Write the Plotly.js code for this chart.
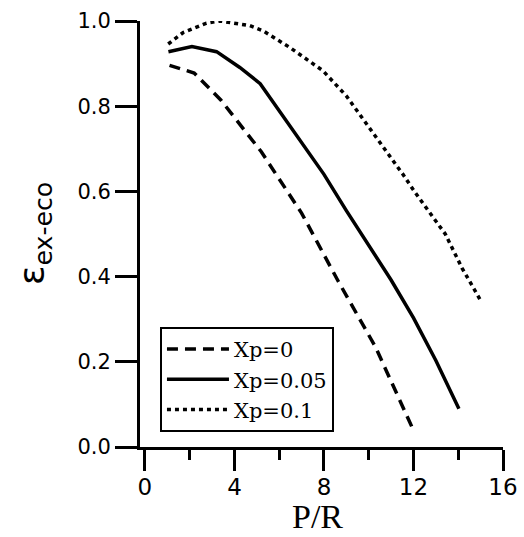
<!DOCTYPE html>
<html>
<head>
<meta charset="utf-8">
<script src="https://cdn.plot.ly/plotly-3.0.1.min.js"></script>
<style>html,body{margin:0;padding:0;background:#fff;}#chart{width:524px;height:537px;}</style>
</head>
<body>
<div id="chart"></div>
<script>
// Values
const xp0_x = [1.1, 2.2, 3.4, 5.2, 7, 8.65, 10.3, 12];
const xp0_y = [0.896, 0.878, 0.814, 0.693, 0.549, 0.388, 0.235, 0.039];

const xp005_x = [1.05, 2.1, 3.2, 4.24, 5.15, 6, 7, 8, 9, 10, 11, 12, 13, 14.03];
const xp005_y = [0.928, 0.94, 0.928, 0.891, 0.853, 0.79, 0.717, 0.64, 0.555, 0.472, 0.392, 0.303, 0.203, 0.09];

const xp01_x = [1.04, 1.71, 2.75, 3.35, 4.69, 5.28, 6.47, 7.96, 9.0, 10.19, 11.53, 12.08, 13.42, 14.17, 15.0];
const xp01_y = [0.946, 0.973, 0.995, 1.0, 0.989, 0.977, 0.938, 0.883, 0.824, 0.738, 0.64, 0.597, 0.50, 0.42, 0.344];

const seriesNames = ["Xp=0", "Xp=0.05", "Xp=0.1"];
const xTicks = [0, 4, 8, 12, 16];
const yTicks = [0, 0.2, 0.4, 0.6, 0.8, 1.0];
const yTickText = ["0.0", "0.2", "0.4", "0.6", "0.8", "1.0"];
const xTitle = 'P/R';
const yTitle = 'ε<sub>ex-eco</sub>';

const traces = [
  {x: xp0_x, y: xp0_y, name: seriesNames[0], mode: 'lines', line: {color: '#000', width: 3.5, dash: '11px,7px'}},
  {x: xp005_x, y: xp005_y, name: seriesNames[1], mode: 'lines', line: {color: '#000', width: 3.5}},
  {x: xp01_x, y: xp01_y, name: seriesNames[2], mode: 'lines', line: {color: '#000', width: 3.5, dash: '4px,4px'}}
];

const layout = {
  width: 524, height: 537,
  margin: {l: 140, r: 21, t: 21, b: 90},
  paper_bgcolor: '#fff', plot_bgcolor: '#fff',
  showlegend: true,
  legend: {x: 0.055, y: 0.282, xanchor: 'left', yanchor: 'top', bgcolor: '#fff', bordercolor: '#000', borderwidth: 2,
    font: {family: 'DejaVu Serif', size: 21, color: '#000'}, itemwidth: 62},
  xaxis: {range: [-0.22, 16], tickvals: xTicks, ticktext: xTicks.map(String), showgrid: false, zeroline: false,
    showline: true, linecolor: '#000', linewidth: 3, ticks: 'outside', ticklen: 21, tickwidth: 3, tickcolor: '#000',
    minor: {tickvals: [2, 6, 10, 14], ticks: 'outside', ticklen: 10, tickwidth: 3, tickcolor: '#000', showgrid: false},
    tickfont: {family: 'DejaVu Sans', size: 23, color: '#000'}, ticklabelstandoff: -4},
  yaxis: {range: [0, 1], tickvals: yTicks, ticktext: yTickText, showgrid: false, zeroline: false,
    showline: true, linecolor: '#000', linewidth: 3, ticks: 'outside', ticklen: 22, tickwidth: 3, tickcolor: '#000',
    tickfont: {family: 'DejaVu Sans', size: 21, color: '#000'}},
  annotations: [
    {text: xTitle, xref: 'paper', yref: 'paper', x: 0.49, y: -0.162, xanchor: 'center', yanchor: 'middle',
     showarrow: false, borderpad: 0, font: {family: 'Liberation Serif', size: 34, color: '#000'}},
    {text: yTitle, xref: 'paper', yref: 'paper', x: -0.292, y: 0.5, xanchor: 'center', yanchor: 'middle',
     textangle: -90, showarrow: false, font: {family: 'DejaVu Sans', size: 36, color: '#000'}}
  ]
};

Plotly.newPlot('chart', traces, layout, {displayModeBar: false});
</script>
</body>
</html>
